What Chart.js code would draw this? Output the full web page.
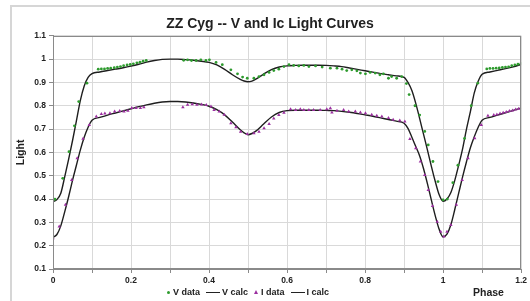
<!DOCTYPE html>
<html>
<head>
<meta charset="utf-8">
<title>ZZ Cyg -- V and Ic Light Curves</title>
<script src="https://cdn.jsdelivr.net/npm/chart.js@4"></script>
<style>
    body { margin: 0; background: #fff; }
    #wrap { position: relative; width: 530px; height: 301px; overflow: hidden; font-family: Arial, "Liberation Sans", sans-serif; }
    #frame { position: absolute; left: 10px; top: 5px; width: 600px; height: 400px; border: 2px solid #d6d6d6; }
    #chart { position: absolute; left: 0; top: 0; }
    #legend { position: absolute; left: 167px; top: 287px; display: flex; align-items: center; font-size: 9px; font-weight: bold; color: #222; white-space: nowrap; }
    #legend .dot { width: 3px; height: 3px; border-radius: 50%; background: #2e9b2e; margin-right: 3px; }
    #legend .tri { width: 0; height: 0; border-left: 2px solid transparent; border-right: 2px solid transparent; border-bottom: 4px solid #9b2fa0; margin-right: 3px; }
    #legend .line { width: 14px; height: 1px; background: #222; margin-right: 2px; }
    #legend .gap { width: 6px; }
    #xTitle { position: absolute; left: 473px; top: 286px; font-size: 10.5px; font-weight: bold; color: #222; }
</style>
</head>
<body>
<div id="wrap">
    <div id="frame"></div>
    <canvas id="chart" width="530" height="301"></canvas>
    <div id="legend">
        <span class="dot"></span><span>V data</span><span class="gap"></span>
        <span class="line"></span><span>V calc</span><span class="gap"></span>
        <span class="tri"></span><span>I data</span><span class="gap"></span>
        <span class="line"></span><span>I calc</span>
    </div>
    <div id="xTitle">Phase</div>
</div>
<script>
// Model light curves (calc), sampled in phase
const calcPhase = [0, 0.01, 0.02, 0.03, 0.04, 0.05, 0.06, 0.07, 0.08, 0.09, 0.10,
    0.12, 0.14, 0.16, 0.18, 0.20, 0.22, 0.24, 0.26, 0.28, 0.30, 0.32, 0.34, 0.36, 0.38, 0.40,
    0.42, 0.44, 0.46, 0.48, 0.49, 0.50, 0.51, 0.52, 0.54, 0.56, 0.58, 0.60, 0.62, 0.64, 0.66, 0.68, 0.70,
    0.72, 0.74, 0.76, 0.78, 0.80, 0.82, 0.84, 0.86, 0.88, 0.90,
    0.91, 0.92, 0.93, 0.94, 0.95, 0.96, 0.97, 0.98, 0.99, 1.00,
    1.01, 1.02, 1.03, 1.04, 1.05, 1.06, 1.07, 1.08, 1.09, 1.10,
    1.12, 1.14, 1.16, 1.18, 1.20];
const vCalc = [0.389, 0.398, 0.425, 0.495, 0.570, 0.650, 0.735, 0.822, 0.885, 0.922, 0.938,
    0.945, 0.951, 0.957, 0.963, 0.970, 0.978, 0.987, 0.994, 0.999, 1.000, 1.000, 0.998, 0.995, 0.991, 0.986,
    0.975, 0.956, 0.933, 0.913, 0.906, 0.903, 0.906, 0.914, 0.936, 0.955, 0.966, 0.971, 0.973, 0.974, 0.974, 0.974, 0.973,
    0.971, 0.968, 0.962, 0.956, 0.950, 0.944, 0.938, 0.933, 0.928, 0.922,
    0.900, 0.865, 0.810, 0.745, 0.677, 0.610, 0.540, 0.475, 0.418, 0.390,
    0.400, 0.428, 0.480, 0.545, 0.615, 0.700, 0.775, 0.855, 0.905, 0.935,
    0.945, 0.952, 0.959, 0.967, 0.977];
const iCalc = [0.235, 0.248, 0.285, 0.345, 0.410, 0.480, 0.545, 0.610, 0.665, 0.708, 0.738,
    0.750, 0.760, 0.769, 0.778, 0.787, 0.796, 0.804, 0.811, 0.816, 0.818, 0.818, 0.816, 0.812, 0.806, 0.798,
    0.783, 0.761, 0.730, 0.697, 0.684, 0.676, 0.681, 0.691, 0.722, 0.752, 0.771, 0.779, 0.781, 0.781, 0.781, 0.781, 0.780,
    0.779, 0.776, 0.772, 0.767, 0.761, 0.755, 0.748, 0.741, 0.734, 0.725,
    0.703, 0.665, 0.625, 0.585, 0.530, 0.465, 0.395, 0.328, 0.270, 0.238,
    0.250, 0.290, 0.355, 0.425, 0.495, 0.560, 0.620, 0.667, 0.708, 0.738,
    0.750, 0.760, 0.770, 0.780, 0.790];

// Observed V data (normalised light)
const vDataPhase = [0.005, 0.025, 0.041, 0.055, 0.066, 0.087,
    0.116, 0.124, 0.132, 0.140, 0.148, 0.157, 0.165, 0.173, 0.181, 0.190, 0.198, 0.206, 0.215, 0.223, 0.231, 0.239,
    0.335, 0.345, 0.355, 0.367, 0.379, 0.392, 0.401, 0.418, 0.434, 0.456, 0.473, 0.486, 0.498,
    0.515, 0.528, 0.541, 0.554, 0.566, 0.579, 0.592, 0.605, 0.617, 0.630, 0.643, 0.656, 0.673, 0.690,
    0.711, 0.728, 0.741, 0.753, 0.766, 0.779, 0.788, 0.801, 0.813, 0.826, 0.838, 0.847, 0.860, 0.868, 0.881, 0.894,
    0.906, 0.913, 0.928, 0.940, 0.953, 0.962, 0.974, 0.987, 1.000,
    1.011, 1.025, 1.038, 1.055, 1.072, 1.089,
    1.112, 1.120, 1.128, 1.136, 1.144, 1.152, 1.160, 1.168, 1.176, 1.184, 1.192, 1.200];
const vData = [0.399, 0.489, 0.603, 0.714, 0.818, 0.897,
    0.957, 0.958, 0.958, 0.960, 0.961, 0.963, 0.966, 0.968, 0.972, 0.975, 0.977, 0.980, 0.984, 0.987, 0.991, 0.994,
    0.995, 0.997, 0.994, 0.994, 0.997, 0.994, 0.997, 0.986, 0.976, 0.954, 0.937, 0.923, 0.918,
    0.918, 0.925, 0.933, 0.943, 0.951, 0.957, 0.968, 0.976, 0.973, 0.971, 0.973, 0.968, 0.971, 0.966,
    0.961, 0.961, 0.957, 0.951, 0.954, 0.950, 0.940, 0.937, 0.943, 0.940, 0.933, 0.937, 0.918, 0.925, 0.918, 0.925,
    0.895, 0.848, 0.800, 0.760, 0.690, 0.632, 0.561, 0.475, 0.396,
    0.400, 0.470, 0.545, 0.660, 0.800, 0.897,
    0.958, 0.960, 0.960, 0.961, 0.962, 0.964, 0.966, 0.967, 0.972, 0.975, 0.978, 0.982];

// Observed Ic data
const iDataPhase = [0.000, 0.016, 0.032, 0.048, 0.062, 0.077, 0.093, 0.111,
    0.124, 0.133, 0.146, 0.158, 0.171, 0.182, 0.192, 0.202, 0.213, 0.224, 0.233,
    0.333, 0.345, 0.357, 0.369, 0.381, 0.393, 0.405, 0.413, 0.426, 0.439, 0.456, 0.469, 0.481, 0.498,
    0.515, 0.528, 0.541, 0.554, 0.566, 0.579, 0.592, 0.609, 0.622, 0.634, 0.643, 0.656, 0.668, 0.685,
    0.702, 0.711, 0.715, 0.728, 0.745, 0.758, 0.775, 0.788, 0.801, 0.817, 0.830, 0.843, 0.860, 0.872, 0.889, 0.902,
    0.915, 0.930, 0.942, 0.953, 0.962, 0.973, 0.985, 0.994, 1.002,
    1.010, 1.020, 1.034, 1.049, 1.064, 1.081, 1.098, 1.115,
    1.130, 1.138, 1.146, 1.154, 1.162, 1.170, 1.178, 1.186, 1.194];
const iData = [0.232, 0.282, 0.375, 0.482, 0.575, 0.658, 0.718, 0.754,
    0.765, 0.767, 0.768, 0.775, 0.777, 0.775, 0.779, 0.790, 0.790, 0.790, 0.794,
    0.794, 0.804, 0.806, 0.804, 0.805, 0.803, 0.797, 0.782, 0.775, 0.761, 0.725, 0.708, 0.689, 0.679,
    0.682, 0.689, 0.704, 0.722, 0.745, 0.760, 0.770, 0.785, 0.782, 0.785, 0.782, 0.782, 0.782, 0.782,
    0.785, 0.789, 0.771, 0.779, 0.782, 0.775, 0.775, 0.771, 0.768, 0.761, 0.757, 0.754, 0.747, 0.740, 0.737, 0.732,
    0.657, 0.618, 0.561, 0.503, 0.439, 0.370, 0.303, 0.260, 0.239,
    0.260, 0.289, 0.375, 0.482, 0.575, 0.661, 0.718, 0.757,
    0.760, 0.763, 0.767, 0.770, 0.773, 0.777, 0.780, 0.784, 0.787];

const xLabelEvery = 0.2;
const fontFamily = 'Arial, "Liberation Sans", sans-serif';

function toPoints(xs, ys) {
    return xs.map((x, i) => ({ x: x, y: ys[i] }));
}

// Draws the box round the plot area (top and right sides as in Excel)
const plotBorder = {
    id: 'plotBorder',
    afterDatasetsDraw(chart) {
        const { ctx, chartArea: a } = chart;
        ctx.save();
        ctx.strokeStyle = '#8a8a8a';
        ctx.lineWidth = 1;
        ctx.strokeRect(Math.round(a.left) + 0.5, Math.round(a.top) + 0.5,
            Math.round(a.width) - 1, Math.round(a.height) - 1);
        ctx.restore();
    }
};

const ctx = document.getElementById('chart');
new Chart(ctx, {
    type: 'scatter',
    data: {
        datasets: [{
            label: 'V data',
            data: toPoints(vDataPhase, vData),
            pointStyle: 'circle',
            pointRadius: 1.4,
            pointBorderWidth: 0,
            backgroundColor: '#2e9b2e',
            borderColor: '#2e9b2e'
        }, {
            label: 'V calc',
            data: toPoints(calcPhase, vCalc),
            showLine: true,
            pointRadius: 0,
            borderColor: '#1e1e1e',
            borderWidth: 1.4,
            cubicInterpolationMode: 'monotone'
        }, {
            label: 'I data',
            data: toPoints(iDataPhase, iData),
            pointStyle: 'triangle',
            pointRadius: 2,
            pointBorderWidth: 0,
            backgroundColor: '#9b2fa0',
            borderColor: '#9b2fa0'
        }, {
            label: 'I calc',
            data: toPoints(calcPhase, iCalc),
            showLine: true,
            pointRadius: 0,
            borderColor: '#1e1e1e',
            borderWidth: 1.4,
            cubicInterpolationMode: 'monotone'
        }]
    },
    options: {
        responsive: false,
        animation: false,
        devicePixelRatio: 1,
        layout: {
            padding: { left: 10, right: 0, top: 0, bottom: 0 }
        },
        plugins: {
            legend: { display: false },
            tooltip: { enabled: false },
            title: {
                display: true,
                text: 'ZZ Cyg -- V and Ic Light Curves',
                color: '#222',
                font: { family: fontFamily, size: 14, weight: 'bold' },
                padding: { top: 16, bottom: 3 }
            }
        },
        scales: {
            x: {
                type: 'linear',
                min: 0,
                max: 1.2,
                afterFit: scale => { scale.height = 32; },
                ticks: {
                    stepSize: 0.1,
                    autoSkip: false,
                    maxRotation: 0,
                    padding: 3,
                    color: '#222',
                    font: { family: fontFamily, size: 8.5, weight: 'bold' },
                    callback: value => {
                        const r = Math.round(value * 10);
                        return r % Math.round(xLabelEvery * 10) === 0 ? String(r / 10) : '';
                    }
                },
                grid: { color: '#d9d9d9', tickLength: 4, tickColor: '#8a8a8a' },
                border: { color: '#8a8a8a' }
            },
            y: {
                min: 0.1,
                max: 1.1,
                afterFit: scale => { scale.width = 43; },
                ticks: {
                    stepSize: 0.1,
                    padding: 3,
                    color: '#222',
                    font: { family: fontFamily, size: 8.5, weight: 'bold' },
                    callback: value => String(Math.round(value * 10) / 10)
                },
                grid: { color: '#d9d9d9', tickLength: 4, tickColor: '#8a8a8a' },
                border: { color: '#8a8a8a' },
                title: {
                    display: true,
                    text: 'Light',
                    color: '#222',
                    font: { family: fontFamily, size: 10.5, weight: 'bold' },
                    padding: { top: 5, bottom: 0 }
                }
            }
        }
    },
    plugins: [plotBorder]
});
</script>
</body>
</html>
